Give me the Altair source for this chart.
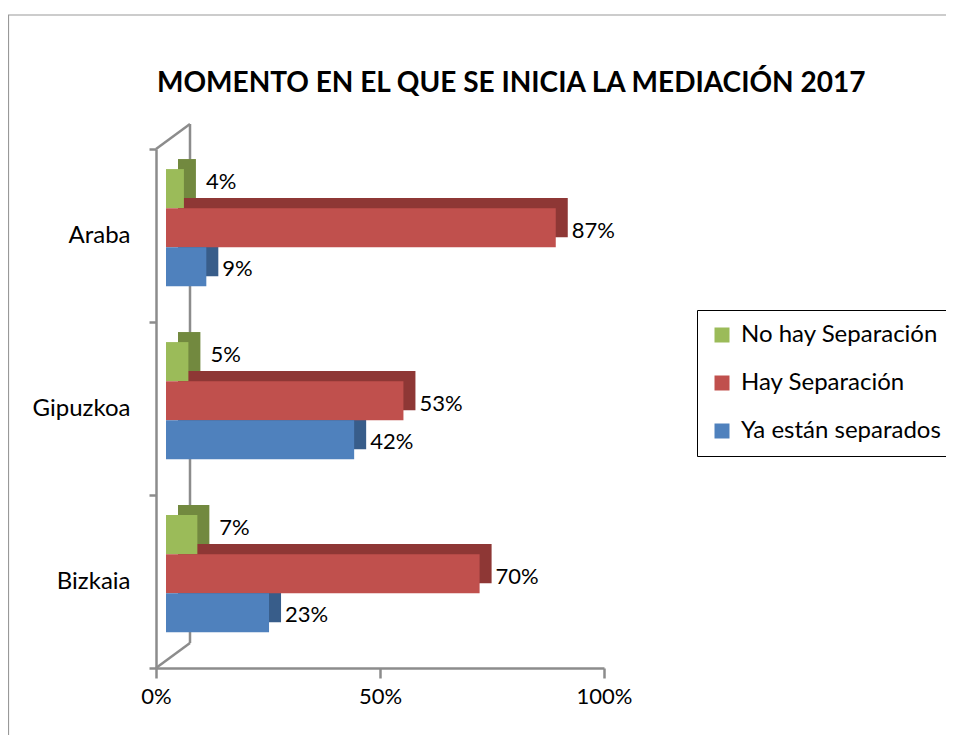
import altair as alt
import pandas as pd

# ---- data ----
regions = ["Araba", "Gipuzkoa", "Bizkaia"]
series = ["No hay Separación", "Hay Separación", "Ya están separados"]
no_hay = [0.04, 0.05, 0.07]
hay = [0.87, 0.53, 0.70]
ya = [0.09, 0.42, 0.23]
x_ticks = [0, 0.5, 1]
title_text = "MOMENTO EN EL QUE SE INICIA LA MEDIACIÓN 2017"

front_colors = ["#9BBB59", "#C0504D", "#4F81BD"]
back_colors = ["#72893F", "#8E3735", "#385D8A"]
label_dx = [32, 26, 26]
label_dy = [-7, 3, 2]

rows = []
for s, vals in zip(series, [no_hay, hay, ya]):
    for r, v in zip(regions, vals):
        rows.append({"region": r, "series": s, "value": v})
df = pd.DataFrame(rows)

W, H = 448, 519
FONT = "Lato"
GRAY = "#8C8C8C"

y_enc = alt.Y(
    "region:N", sort=regions,
    scale=alt.Scale(paddingInner=0, paddingOuter=0),
    axis=alt.Axis(title=None, tickBand="extent", tickSize=7, tickColor=GRAY,
                  tickWidth=2.5, domainColor=GRAY, domainWidth=2.5,
                  labelFont=FONT, labelFontSize=24, labelColor="black",
                  labelPadding=19),
)


def yoff(align):
    return alt.YOffset(
        "series:N", sort=series,
        scale=alt.Scale(type="band", domain=series, paddingInner=0,
                        paddingOuter=0.714, align=align),
    )


x_enc = alt.X(
    "value:Q",
    scale=alt.Scale(domain=[0, 1], nice=False),
    axis=alt.Axis(title=None, values=x_ticks, format="%", tickSize=10,
                  tickColor=GRAY, tickWidth=2.5, domainColor=GRAY,
                  domainWidth=2.5, labelFont=FONT, labelFontSize=22,
                  labelColor="black", labelPadding=8, grid=False,
                  labelFlush=False),
)

base = alt.Chart(df)

one = alt.Data(values=[{"t": title_text}])

frame = alt.Chart(one).mark_rect(
    fill=None, stroke="#999999", strokeWidth=1.2, clip=False
).encode(
    x=alt.value(-147.5), x2=alt.value(W + 400),
    y=alt.value(-134), y2=alt.value(H + 200),
)

wall_v = alt.Chart(one).mark_rule(color=GRAY, strokeWidth=2.5).encode(
    x=alt.value(34), y=alt.value(-25), y2=alt.value(H - 25))
wall_top = alt.Chart(one).mark_rule(color=GRAY, strokeWidth=2.5).encode(
    x=alt.value(0), y=alt.value(0), x2=alt.value(34), y2=alt.value(-25))
wall_bot = alt.Chart(one).mark_rule(color=GRAY, strokeWidth=2.5).encode(
    x=alt.value(0), y=alt.value(H), x2=alt.value(34), y2=alt.value(H - 25))

# back (depth) box: same bars pushed right and up
back = base.mark_bar(xOffset=22, x2Offset=22).encode(
    y=y_enc, yOffset=yoff(0.18), x=x_enc,
    color=alt.Color("series:N", sort=series,
                    scale=alt.Scale(domain=series, range=back_colors),
                    legend=None),
)

front = base.mark_bar(xOffset=10, x2Offset=10).encode(
    y=y_enc, yOffset=yoff(0.36), x=x_enc,
    color=alt.Color(
        "series:N", sort=series,
        scale=alt.Scale(domain=series, range=front_colors),
        legend=alt.Legend(
            orient="none", legendX=541, legendY=161, title=None,
            strokeColor="black", fillColor="white",
            padding=13, symbolType="square", symbolSize=225,
            symbolStrokeWidth=0, labelFont=FONT, labelFontSize=24,
            labelColor="black", rowPadding=24, labelOffset=7,
            labelLimit=400,
        ),
    ),
)

labels = []
for s, dx, dy in zip(series, label_dx, label_dy):
    labels.append(
        base.transform_filter(alt.datum.series == s).mark_text(
            align="left", baseline="middle", dx=dx, dy=dy,
            font=FONT, fontSize=22, color="black",
        ).encode(
            y=y_enc, yOffset=yoff(0.36), x=x_enc,
            text=alt.Text("value:Q", format=".0%"),
        )
    )

title = alt.Chart(one).mark_text(
    align="left", baseline="alphabetic", font=FONT, fontSize=28,
    fontWeight="bold", color="black",
).encode(x=alt.value(1), y=alt.value(-57), text="t:N")

chart = alt.layer(
    frame, wall_v, wall_top, wall_bot, back, front, *labels, title
).resolve_scale(color="independent", yOffset="independent").properties(
    width=W, height=H,
    autosize=alt.AutoSizeParams(type="none"),
    padding={"left": 148, "top": 141, "right": 342, "bottom": 67},
).configure(background="white").configure_view(stroke=None)

chart.save("out.html", embed_options={"renderer": "svg", "actions": False})
